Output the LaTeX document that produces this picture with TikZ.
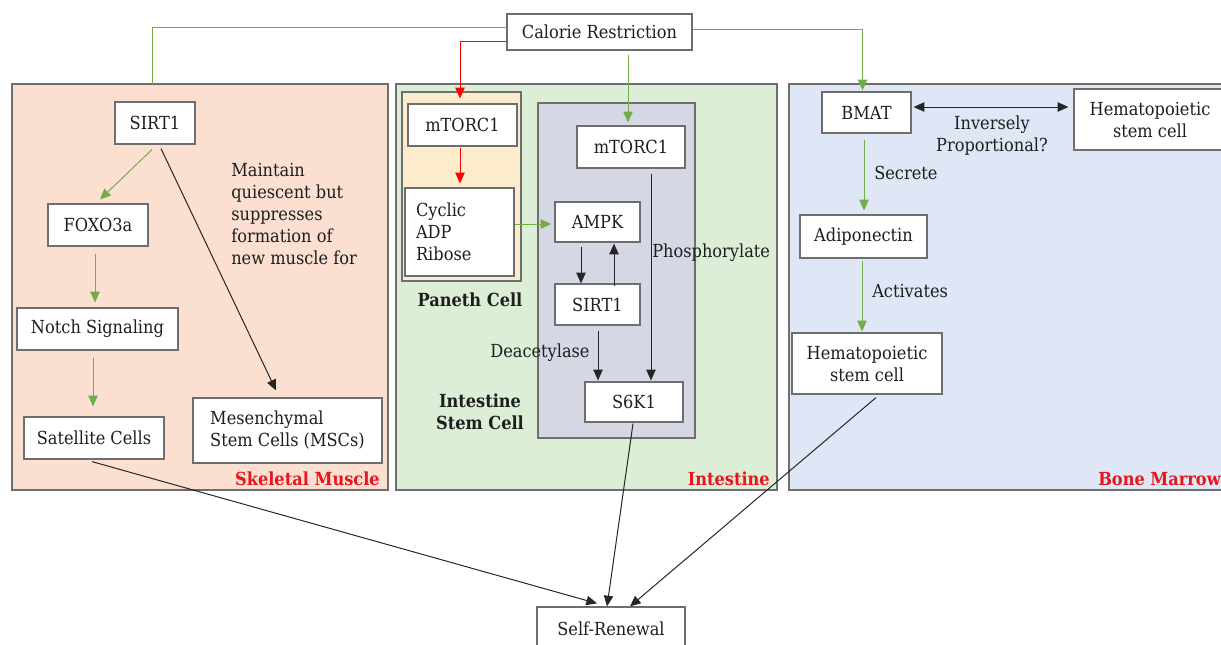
\documentclass[tikz,border=0pt]{standalone}
\usepackage{fontspec}
\setmainfont{DejaVu Serif}[FakeStretch=0.9]
\usetikzlibrary{arrows.meta,calc}
\definecolor{skelfill}{RGB}{251,224,210}
\definecolor{intfill}{RGB}{220,238,214}
\definecolor{bonefill}{RGB}{223,230,245}
\definecolor{panfill}{RGB}{253,236,204}
\definecolor{iscfill}{RGB}{213,216,228}
\definecolor{framegray}{RGB}{110,110,110}
\definecolor{arrgreen}{RGB}{112,173,71}
\definecolor{linered}{RGB}{255,0,0}
\definecolor{labred}{RGB}{232,20,30}
\definecolor{textcol}{RGB}{30,30,30}
\newcommand\myfs{\fontsize{13.5}{16.5}\selectfont}
\tikzset{
  px/.style 2 args={minimum width=#1*0.75pt, minimum height=#2*0.75pt},
  box/.style={draw=framegray, line width=0.9pt, fill=white, inner sep=0pt, align=center, text=textcol, font=\myfs},
  panel/.style={draw=framegray, line width=0.9pt},
  lab/.style={inner sep=0pt, text=textcol, font=\myfs},
  boldlab/.style={inner sep=0pt, text=textcol, font=\myfs\bfseries, align=center},
  redlab/.style={inner sep=0pt, text=labred, font=\myfs\bfseries},
  arr/.style={-{Triangle[length=8pt,width=7pt]}, line width=0.75pt},
  garr/.style={arr, draw=arrgreen},
  rarr/.style={arr, draw=linered},
  barr/.style={arr, draw=black!85},
  dbarr/.style={{Triangle[length=8pt,width=7pt]}-{Triangle[length=8pt,width=7pt]}, line width=0.75pt, draw=black!85},
  gline/.style={line width=0.75pt, draw=arrgreen}
}
\begin{document}
\begin{tikzpicture}[x=0.75pt,y=-0.75pt]
\useasboundingbox (0,0) rectangle (1221,644);
% panels
\draw[panel, fill=skelfill] (12,84) rectangle (388,490);
\draw[panel, fill=intfill] (396,84) rectangle (777,490);
\draw[panel, fill=bonefill] (789,84) rectangle (1240,490);
\draw[panel, fill=panfill] (402,92) rectangle (521,281);
\draw[panel, fill=iscfill] (538,103) rectangle (695,438);
% nodes
\node[box, px={185}{36}] (cr) at (599.5,32) {Calorie Restriction};
\node[box, px={80}{42}] (sirtA) at (155,123) {SIRT1};
\node[box, px={100}{42}] (foxo) at (98,225) {FOXO3a};
\node[box, px={161}{42}] (notch) at (97.5,329) {Notch Signaling};
\node[box, px={140}{42}] (sat) at (94,438) {Satellite Cells};
\node[box, px={189}{65}, align=left] (msc) at (287.5,430.5) {Mesenchymal\\Stem Cells (MSCs)};
\node[box, px={109}{42}] (mtorP) at (462.5,125) {mTORC1};
\node[box, px={109}{88}, align=left, text width=65.25pt, inner xsep=8.25pt] (cadpr) at (459.5,232) {Cyclic\\ADP\\Ribose};
\node[box, px={108}{42}] (mtorI) at (631,147) {mTORC1};
\node[box, px={85}{40}] (ampk) at (597.5,222) {AMPK};
\node[box, px={85}{41}] (sirtB) at (597.5,304.5) {SIRT1};
\node[box, px={98}{40}] (s6k) at (634,402) {S6K1};
\node[box, px={89}{41}] (bmat) at (866.5,112.5) {BMAT};
\node[box, px={152}{61}] (hscA) at (1150,119.5) {Hematopoietic\\stem cell};
\node[box, px={127}{43}] (adipo) at (863.5,236.5) {Adiponectin};
\node[box, px={150}{61}] (hscB) at (867,363.5) {Hematopoietic\\stem cell};
\node[box, px={148}{44}] (self) at (611,629) {Self-Renewal};
% labels
\node[lab, anchor=west, align=left] (maint) at (231,214) {Maintain\\quiescent but\\suppresses\\formation of\\new muscle for};
\node[redlab, anchor=east] (skl) at (380,479) {Skeletal Muscle};
\node[boldlab] (pan) at (470,300) {Paneth Cell};
\node[boldlab] (iscl) at (480,412) {Intestine\\Stem Cell};
\node[lab, anchor=west] (phos) at (652,253) {Phosphorylate};
\node[lab, anchor=west] (deac) at (490,353) {Deacetylase};
\node[redlab, anchor=east] (intl) at (770,479) {Intestine};
\node[lab, align=center] (inv) at (992,136) {Inversely\\Proportional?};
\node[lab, anchor=west] (secr) at (874,173) {Secrete};
\node[lab, anchor=west] (actv) at (872,291) {Activates};
\node[redlab, anchor=east] (bml) at (1221,479) {Bone Marrow};
% connectors from Calorie Restriction
\coordinate (skeltop) at (152,84);
\draw[gline] ($(cr.west)+(0,-5)$) -| (skeltop);
\draw[rarr] ($(cr.west)+(0,9)$) -| ($(mtorP.north)+(-2.5,-5)$);
\draw[garr] ($(cr.south)+(28.5,4)$) -- ($(mtorI.north)+(-3,-3)$);
\draw[garr] ($(cr.east)+(0,-3)$) -| ($(bmat.north)+(-4,-1)$);
% skeletal muscle
\draw[garr] ($(sirtA.south)+(-3,5)$) -- ($(foxo.north)+(2,-4)$);
\draw[barr] ($(sirtA.south)+(6,4)$) -- ($(msc.north)+(-11.5,-7)$);
\draw[garr] ($(foxo.south)+(-3,7)$) -- ($(notch.north)+(-2.5,-5)$);
\draw[garr] ($(notch.south)+(-4.5,7)$) -- ($(sat.north)+(-1,-10)$);
% intestine
\draw[rarr] ($(mtorP.south)+(-2.5,1)$) -- ($(cadpr.north)+(0.5,-4)$);
\draw[garr] ($(cadpr.east)+(0,-8)$) -- ($(ampk.west)+(-3,2)$);
\draw[barr] ($(ampk.south)+(-16.5,4)$) -- ($(sirtB.north)+(-16.5,0)$);
\draw[barr] ($(sirtB.north)+(16.5,3)$) -- ($(ampk.south)+(16.5,1)$);
\draw[barr] ($(mtorI.south)+(20,5)$) -- ($(s6k.north)+(17,-1)$);
\draw[barr] ($(sirtB.south)+(0.5,5)$) -- ($(s6k.north)+(-36,-1)$);
% to self-renewal
\draw[barr] ($(s6k.south)+(-1,1)$) -- ($(self.north)+(-4,0)$);
\draw[barr] ($(sat.south)+(-2,2)$) -- ($(self.north)+(-14,-3)$);
\draw[barr] ($(hscB.south)+(9,3)$) -- ($(self.north)+(19,0)$);
% bone marrow
\draw[dbarr] ($(bmat.east)+(2,-5.5)$) -- ($(hscA.west)+(-5,-12.5)$);
\draw[garr] ($(bmat.south)+(-2.5,6)$) -- ($(adipo.north)+(0.5,-4)$);
\draw[garr] ($(adipo.south)+(-1.5,2)$) -- ($(hscB.north)+(-5,-1)$);
\end{tikzpicture}
\end{document}
